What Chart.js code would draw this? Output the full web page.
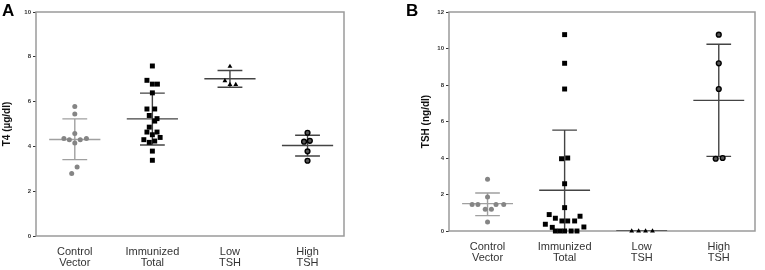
<!DOCTYPE html>
<html>
<head>
<meta charset="utf-8">
<script src="https://cdn.jsdelivr.net/npm/chart.js@4"></script>
<style>
  html, body { margin: 0; padding: 0; background: #fff; }
  #wrap { position: relative; width: 765px; height: 270px; overflow: hidden; }
  canvas { position: absolute; top: 0; }
</style>
</head>
<body>
<div id="wrap">
  <canvas id="chartA" width="385" height="270" style="left:0"></canvas>
  <canvas id="chartB" width="365" height="270" style="left:400px"></canvas>
</div>
<script>
// categories
const groups = [['Control', 'Vector'], ['Immunized', 'Total'], ['Low', 'TSH'], ['High', 'TSH']];

// panel A: T4 (µg/dl), jitter is horizontal spread in category units
const t4Control = [5.78, 5.45, 4.58, 4.35, 4.30, 4.15, 4.30, 4.35, 3.08, 2.79];
const t4ControlJitter = [0, 0, 0, -0.14, -0.07, 0, 0.07, 0.15, 0.03, -0.04];
const t4Immunized = [7.59, 6.95, 6.78, 6.78, 6.39, 5.67, 5.67, 5.38, 5.13, 5.24, 4.86, 4.64, 4.64, 4.52, 4.40, 4.30, 4.18, 4.24, 3.79, 3.38];
const t4ImmunizedJitter = [0, -0.07, 0, 0.065, 0, -0.07, 0.03, -0.04, 0.03, 0.06, -0.04, -0.07, 0.06, 0, 0.1, -0.11, -0.04, 0.03, 0, 0];
const t4Low = [7.57, 6.93, 6.76, 6.76];
const t4LowJitter = [0, -0.065, 0, 0.075];
const t4High = [4.61, 4.21, 4.25, 3.78, 3.36];
const t4HighJitter = [0, -0.045, 0.03, 0, 0];
const t4Mean = [4.31, 5.23, 7.02, 4.04];
const t4Upper = [5.23, 6.38, 7.39, 4.50];
const t4Lower = [3.41, 4.06, 6.64, 3.57];
const t4Ticks = [0, 2, 4, 6, 8, 10];

// panel B: TSH (ng/dl)
const tshControl = [2.83, 1.86, 1.45, 1.45, 1.45, 1.45, 1.19, 1.19, 0.49];
const tshControlJitter = [0, 0, -0.2, -0.125, 0.11, 0.21, -0.03, 0.05, 0];
const tshImmunized = [10.76, 9.19, 7.78, 3.96, 4.0, 2.59, 1.28, 0.9, 0.7, 0.81, 0.55, 0.55, 0.55, 0.37, 0.2, 0.22, 0, 0, 0, 0, 0];
const tshImmunizedJitter = [0, 0, 0, -0.04, 0.04, 0, 0, -0.2, -0.12, 0.2, -0.035, 0.04, 0.13, -0.25, -0.16, 0.25, -0.12, -0.06, 0, 0.085, 0.16];
const tshLow = [0, 0, 0, 0];
const tshLowJitter = [-0.13, -0.04, 0.05, 0.14];
const tshHigh = [10.76, 9.19, 7.78, 3.96, 4.0];
const tshHighJitter = [0, 0, 0, -0.04, 0.05];
const tshMean = [1.5, 2.23, 0, 7.16];
const tshUpper = [2.08, 5.53, 0, 10.23];
const tshLower = [0.84, -1.07, 0, 4.09];
const tshTicks = [0, 2, 4, 6, 8, 10, 12];

const FONT = '"Liberation Sans", Arial, sans-serif';
const markers = [
  { pointStyle: 'circle', pointRadius: 2.5, backgroundColor: '#858585', borderColor: '#858585', borderWidth: 0 },
  { pointStyle: 'rect', pointRadius: 3.5, backgroundColor: '#000', borderColor: '#000', borderWidth: 0 },
  { pointStyle: 'triangle', pointRadius: 2.8, backgroundColor: '#000', borderColor: '#000', borderWidth: 0 },
  { pointStyle: 'circle', pointRadius: 2.4, backgroundColor: '#555', borderColor: '#000', borderWidth: 1.4 },
];
const barColors = ['#a0a0a0', '#444', '#444', '#444'];

function points(vals, jit, idx) {
  return vals.map((v, i) => ({ x: idx + 1 + jit[i], y: v }));
}

function errorData(i, mean, up, lo) {
  const c = i + 1, gap = { x: c, y: null };
  return [
    { x: c - 0.33, y: mean }, { x: c + 0.33, y: mean }, gap,
    { x: c, y: lo }, { x: c, y: up }, gap,
    { x: c - 0.16, y: up }, { x: c + 0.16, y: up }, gap,
    { x: c - 0.16, y: lo }, { x: c + 0.16, y: lo },
  ];
}

const framePlugin = {
  id: 'frame',
  beforeDatasetsDraw(chart) {
    const { ctx, chartArea: a } = chart;
    ctx.save();
    ctx.strokeStyle = '#9a9a9a';
    ctx.lineWidth = 1.5;
    ctx.strokeRect(a.left, a.top, a.right - a.left, a.bottom - a.top);
    ctx.restore();
  },
  afterDraw(chart, args, opts) {
    const ctx = chart.ctx;
    ctx.save();
    ctx.fillStyle = '#000';
    ctx.font = 'bold 17px ' + FONT;
    ctx.textBaseline = 'alphabetic';
    ctx.fillText(opts.letter, opts.lx, 16);
    ctx.restore();
  },
};

function makeChart(id, cfg) {
  const sets = cfg.series.map((s, i) => Object.assign({
    type: 'scatter', data: points(s[0], s[1], i), clip: false, order: 0,
  }, markers[i]));
  cfg.mean.forEach((m, i) => sets.push({
    type: 'line', data: errorData(i, m, cfg.upper[i], cfg.lower[i]),
    borderColor: barColors[i], borderWidth: 1.4, pointRadius: 0, spanGaps: false, order: 1,
  }));
  return new Chart(document.getElementById(id), {
    type: 'scatter',
    data: { datasets: sets },
    options: {
      responsive: false,
      animation: false,
      layout: { padding: cfg.padding },
      plugins: { legend: { display: false }, tooltip: { enabled: false }, frame: { letter: cfg.letter, lx: cfg.lx } },
      scales: {
        x: {
          type: 'linear', min: 0.5, max: 4.47,
          afterBuildTicks: (s) => { s.ticks = groups.map((g, i) => ({ value: i + 1 })); },
          afterFit: (s) => { s.height = cfg.xHeight; },
          grid: { display: false, drawTicks: false },
          border: { display: false },
          ticks: {
            autoSkip: false, maxRotation: 0, padding: 10, color: '#333',
            font: { family: FONT, size: 11, lineHeight: 1.05 },
            callback: (v) => groups[v - 1] || '',
          },
        },
        y: {
          min: 0, max: cfg.ticks[cfg.ticks.length - 1],
          afterBuildTicks: (s) => { s.ticks = cfg.ticks.map((v) => ({ value: v })); },
          afterFit: (s) => { s.width = cfg.yWidth; },
          grid: { display: true, drawOnChartArea: false, drawTicks: true, tickLength: 3, color: '#333' },
          border: { display: false },
          ticks: { padding: 2, color: '#333', font: { family: FONT, size: 6, weight: 'bold' } },
          title: { display: true, text: cfg.title, color: '#111', padding: { top: 1, bottom: 0 }, font: { family: FONT, size: 10, weight: 'bold' } },
        },
      },
    },
    plugins: [framePlugin],
  });
}

makeChart('chartA', {
  series: [[t4Control, t4ControlJitter], [t4Immunized, t4ImmunizedJitter], [t4Low, t4LowJitter], [t4High, t4HighJitter]],
  mean: t4Mean, upper: t4Upper, lower: t4Lower, ticks: t4Ticks,
  title: 'T4 (µg/dl)', letter: 'A', lx: 2,
  padding: { left: 0, top: 12, right: 41, bottom: 0 }, yWidth: 36, xHeight: 34,
});

makeChart('chartB', {
  series: [[tshControl, tshControlJitter], [tshImmunized, tshImmunizedJitter], [tshLow, tshLowJitter], [tshHigh, tshHighJitter]],
  mean: tshMean, upper: tshUpper, lower: tshLower, ticks: tshTicks,
  title: 'TSH (ng/dl)', letter: 'B', lx: 6,
  padding: { left: 19, top: 12, right: 10, bottom: 0 }, yWidth: 30, xHeight: 39,
});
</script>
</body>
</html>
